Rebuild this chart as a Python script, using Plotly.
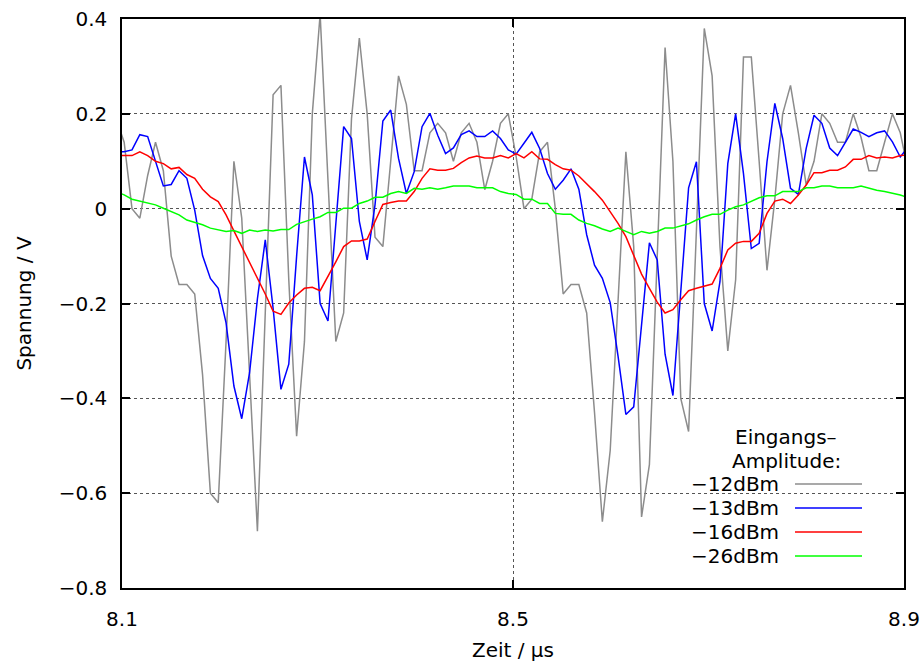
import plotly.graph_objects as go

# Sample grid of the oscilloscope record (8 ns steps), in microseconds
time_us = [round(8.1022 + 0.00802 * k, 5) for k in range(-1, 101)]

series_names = ["\u221212dBm", "\u221213dBm", "\u221216dBm", "\u221226dBm"]
series_colors = ["#8c8c8c", "#0000ff", "#ff0000", "#00ff00"]

v_m12 = [0.19, 0.14, 0.0, -0.02, 0.07, 0.14, 0.08, -0.10, -0.16, -0.16,
         -0.18, -0.35, -0.60, -0.62, -0.28, 0.10, -0.02, -0.36, -0.68, -0.22,
         0.24, 0.26, -0.15, -0.48, -0.28, 0.20, 0.41, 0.06, -0.28, -0.22,
         0.19, 0.36, 0.20, -0.06, -0.08, 0.10, 0.28, 0.22, 0.08, 0.08,
         0.16, 0.18, 0.16, 0.10, 0.16, 0.18, 0.14, 0.04, 0.10, 0.18,
         0.20, 0.11, 0.00, 0.02, 0.12, 0.14, 0.00, -0.18, -0.16, -0.16,
         -0.22, -0.43, -0.66, -0.51, -0.20, 0.12, -0.08, -0.65, -0.54, -0.10,
         0.34, 0.10, -0.40, -0.47, -0.04, 0.38, 0.28, -0.08, -0.30, -0.15,
         0.32, 0.32, 0.10, -0.13, 0.02, 0.20, 0.26, 0.16, 0.05, 0.10,
         0.20, 0.18, 0.14, 0.14, 0.20, 0.15, 0.08, 0.08, 0.14, 0.20,
         0.16, 0.08]

v_m13 = [0.12, 0.12, 0.124, 0.156, 0.152, 0.10, 0.048, 0.051, 0.08, 0.064,
         -0.003, -0.099, -0.147, -0.168, -0.241, -0.374, -0.443, -0.346, -0.19, -0.066,
         -0.21, -0.381, -0.328, -0.10, 0.109, 0.029, -0.20, -0.237, -0.04, 0.173,
         0.148, -0.027, -0.108, 0.008, 0.185, 0.208, 0.106, 0.032, 0.078, 0.173,
         0.201, 0.155, 0.116, 0.128, 0.156, 0.164, 0.152, 0.152, 0.164, 0.148,
         0.124, 0.115, 0.138, 0.161, 0.127, 0.074, 0.041, 0.06, 0.084, 0.041,
         -0.055, -0.119, -0.147, -0.198, -0.311, -0.434, -0.418, -0.25, -0.072, -0.108,
         -0.307, -0.394, -0.17, 0.044, 0.099, -0.20, -0.258, -0.154, 0.095, 0.20,
         0.074, -0.084, -0.073, 0.099, 0.222, 0.148, 0.043, 0.03, 0.127, 0.197,
         0.18, 0.128, 0.112, 0.141, 0.168, 0.161, 0.152, 0.16, 0.164, 0.141,
         0.109, 0.13]

v_m16 = [0.112, 0.112, 0.112, 0.12, 0.112, 0.10, 0.095, 0.084, 0.087, 0.072,
         0.064, 0.041, 0.025, 0.015, -0.013, -0.047, -0.08, -0.113, -0.147, -0.18,
         -0.216, -0.223, -0.199, -0.182, -0.168, -0.166, -0.173, -0.144, -0.112, -0.08,
         -0.068, -0.068, -0.064, -0.027, 0.009, 0.013, 0.016, 0.016, 0.036, 0.064,
         0.084, 0.081, 0.081, 0.085, 0.097, 0.107, 0.111, 0.107, 0.107, 0.112,
         0.107, 0.116, 0.107, 0.12, 0.105, 0.104, 0.093, 0.084, 0.081, 0.069,
         0.053, 0.036, 0.018, -0.006, -0.031, -0.059, -0.098, -0.138, -0.168, -0.197,
         -0.22, -0.213, -0.192, -0.173, -0.168, -0.164, -0.159, -0.126, -0.087, -0.073,
         -0.069, -0.069, -0.052, -0.01, 0.016, 0.02, 0.011, 0.029, 0.05, 0.076,
         0.076, 0.081, 0.081, 0.088, 0.104, 0.104, 0.112, 0.107, 0.109, 0.107,
         0.112, 0.113]

v_m26 = [0.036, 0.029, 0.02, 0.016, 0.011, 0.008, 0.001, -0.006, -0.013, -0.024,
         -0.029, -0.034, -0.041, -0.045, -0.048, -0.046, -0.052, -0.045, -0.048, -0.045,
         -0.047, -0.044, -0.044, -0.033, -0.027, -0.022, -0.017, -0.008, -0.008, 0.001,
         0.001, 0.011, 0.016, 0.024, 0.024, 0.032, 0.036, 0.032, 0.043, 0.041,
         0.044, 0.041, 0.044, 0.048, 0.048, 0.048, 0.044, 0.044, 0.044, 0.036,
         0.032, 0.03, 0.02, 0.02, 0.011, 0.011, -0.01, -0.012, -0.012, -0.024,
         -0.031, -0.036, -0.043, -0.048, -0.041, -0.048, -0.055, -0.048, -0.052, -0.048,
         -0.041, -0.041, -0.036, -0.032, -0.024, -0.017, -0.012, -0.012, -0.003, 0.004,
         0.008, 0.015, 0.023, 0.027, 0.027, 0.036, 0.036, 0.036, 0.044, 0.044,
         0.048, 0.048, 0.044, 0.044, 0.044, 0.048, 0.043, 0.039, 0.036, 0.032,
         0.029, 0.023]

series_values = [v_m12, v_m13, v_m16, v_m26]

x_ticks = [8.1, 8.5, 8.9]
x_ticktext = ["8.1", "8.5", "8.9"]
y_ticks = [0.4, 0.2, 0.0, -0.2, -0.4, -0.6, -0.8]
y_ticktext = ["0.4", "0.2", "0", "\u22120.2", "\u22120.4", "\u22120.6", "\u22120.8"]

legend_title = ["Eingangs\u2013", "Amplitude:"]

FONT = "DejaVu Sans"
FS = 20

fig = go.Figure()
for name, color, vals in zip(series_names, series_colors, series_values):
    fig.add_trace(go.Scatter(x=time_us, y=vals, mode="lines", name=name,
                             line=dict(color=color, width=1.5), showlegend=False))

# --- gnuplot-style legend (text right-aligned, sample line to the right) ---
L, R, T, B = 122, 20, 19, 74
W, H = 924, 662
pw, ph = W - L - R, H - T - B
px = lambda x: (x - L) / pw
py = lambda y: (H - B - y) / ph

shapes = [dict(type="rect", xref="paper", yref="paper", layer="between",
               x0=px(684), x1=px(872), y0=py(568), y1=py(422),
               fillcolor="white", line=dict(width=0))]
annotations = []
annotations.append(dict(text=legend_title[0], xref="paper", yref="paper",
                        x=px(786), y=py(437), showarrow=False, xanchor="center",
                        yanchor="middle", font=dict(family=FONT, size=FS, color="black")))
annotations.append(dict(text=legend_title[1], xref="paper", yref="paper",
                        x=px(786), y=py(461), showarrow=False, xanchor="center",
                        yanchor="middle", font=dict(family=FONT, size=FS, color="black")))
for i, (name, color) in enumerate(zip(series_names, series_colors)):
    yy = 484 + i * 24
    annotations.append(dict(text=name, xref="paper", yref="paper", x=px(781), y=py(yy),
                            showarrow=False, xanchor="right", yanchor="middle",
                            font=dict(family=FONT, size=FS, color="black")))
    shapes.append(dict(type="line", xref="paper", yref="paper", layer="above",
                       x0=px(795), x1=px(862), y0=py(yy), y1=py(yy),
                       line=dict(color=color, width=1.5)))

axis_common = dict(showline=True, linecolor="black", linewidth=1.5, mirror="ticks",
                   ticks="inside", ticklen=8, tickcolor="black", tickwidth=1.5,
                   showgrid=True, gridcolor="#555555", gridwidth=1, griddash="dot",
                   zeroline=False, automargin=False,
                   tickfont=dict(family=FONT, size=FS, color="black"))

fig.update_layout(
    width=W, height=H,
    margin=dict(l=L, r=R, t=T, b=B, pad=0, autoexpand=False),
    paper_bgcolor="white", plot_bgcolor="white",
    font=dict(family=FONT, size=FS, color="black"),
    xaxis=dict(range=[8.1, 8.9], tickvals=x_ticks, ticktext=x_ticktext,
               title=dict(text="Zeit / \u00b5s", standoff=14, font=dict(family=FONT, size=FS)),
               ticklabelstandoff=12, **axis_common),
    yaxis=dict(range=[-0.8, 0.4], tickvals=y_ticks, ticktext=y_ticktext,
               title=dict(text="Spannung / V", standoff=22, font=dict(family=FONT, size=FS)),
               ticklabelstandoff=9, **axis_common),
    shapes=shapes, annotations=annotations, showlegend=False,
)

fig.write_html("out.html")
